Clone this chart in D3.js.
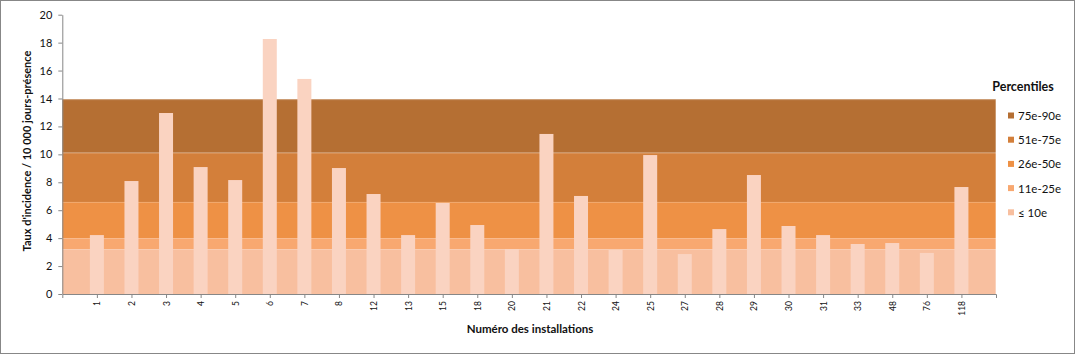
<!DOCTYPE html>
<html>
<head>
<meta charset="utf-8">
<script src="https://cdn.jsdelivr.net/npm/d3@7"></script>
<style>
  body { margin: 0; background: #fff; }
  svg { display: block; font-family: Lato, "Liberation Sans", sans-serif; }
</style>
</head>
<body>
<svg width="1075" height="354"></svg>
<script>
const installations = ["1", "2", "3", "4", "5", "6", "7", "8", "12", "13", "15", "18", "20", "21", "22", "24", "25", "27", "28", "29", "30", "31", "33", "48", "76", "118"];
const taux = [4.22, 8.09, 12.96, 9.09, 8.16, 18.26, 15.4, 9.02, 7.16, 4.22, 6.52, 4.94, 3.22, 11.46, 7.02, 3.15, 9.95, 2.86, 4.65, 8.52, 4.87, 4.22, 3.58, 3.65, 2.94, 7.66];

// percentile bands (upper limit of each band), lowest first
const percentiles = ["≤ 10e", "11e-25e", "26e-50e", "51e-75e", "75e-90e"];
const limites = [3.22, 4.01, 6.59, 10.12, 13.95];
const couleurs = ["#f8bf9f", "#f8a870", "#ee9145", "#d37f3a", "#b56f33"];
const yTicks = [0, 2, 4, 6, 8, 10, 12, 14, 16, 18, 20];

const svg = d3.select("svg"),
    width = 1075,
    height = 354,
    m = { left: 62.3, right: 996, top: 14.7, bottom: 294 };

svg.append("rect")
    .attr("x", 0.5).attr("y", 0.5)
    .attr("width", width - 1).attr("height", height - 1)
    .attr("fill", "#fff").attr("stroke", "#878787");

const x = d3.scalePoint().domain(installations).range([m.left, m.right]).padding(1);
const y = d3.scaleLinear().domain([0, 20]).range([m.bottom, m.top]);

// bands
const bands = limites.map((v, i) => ({ lo: i ? limites[i - 1] : 0, hi: v, color: couleurs[i] }));
svg.append("g").selectAll("rect")
    .data(bands)
    .enter().append("rect")
    .attr("x", m.left)
    .attr("width", m.right - m.left)
    .attr("y", d => y(d.hi))
    .attr("height", d => y(d.lo) - y(d.hi))
    .attr("fill", d => d.color);

svg.append("g").selectAll("line")
    .data(bands)
    .enter().append("line")
    .attr("x1", m.left).attr("x2", m.right)
    .attr("y1", d => y(d.hi) + 0.5).attr("y2", d => y(d.hi) + 0.5)
    .attr("stroke", "#fff").attr("stroke-opacity", 0.22);

svg.append("line")
    .attr("x1", m.right - 0.5).attr("x2", m.right - 0.5)
    .attr("y1", y(limites[4])).attr("y2", m.bottom)
    .attr("stroke", "#fff").attr("stroke-opacity", 0.3);

// bars
svg.append("g").selectAll("rect")
    .data(taux)
    .enter().append("rect")
    .attr("x", (d, i) => x(installations[i]) - 7)
    .attr("width", 14)
    .attr("y", d => y(d))
    .attr("height", d => m.bottom - y(d))
    .attr("fill", "#fad3c1");

// axes
const yAxis = svg.append("g")
    .attr("transform", `translate(${m.left},0)`)
    .call(d3.axisLeft(y).tickValues(yTicks).tickSize(4).tickSizeOuter(0).tickPadding(6));
yAxis.selectAll("text").attr("font-size", 11).attr("fill", "#111").attr("font-family", "Lato, sans-serif");

const xAxis = svg.append("g")
    .attr("transform", `translate(0,${m.bottom})`)
    .call(d3.axisBottom(x).tickSize(4).tickSizeOuter(4));
xAxis.selectAll("text")
    .attr("transform", "rotate(-90)")
    .attr("text-anchor", "end")
    .attr("x", -7).attr("y", 0).attr("dy", "0.35em")
    .attr("font-size", 8.5).attr("fill", "#111").attr("font-family", "Lato, sans-serif");

svg.selectAll(".domain, .tick line").attr("stroke", "#878787");

// titles
svg.append("text")
    .attr("transform", "translate(31,151) rotate(-90)")
    .attr("text-anchor", "middle")
    .attr("font-size", 11).attr("font-weight", "bold").attr("fill", "#111")
    .text("Taux d'incidence  / 10 000 jours-présence");

svg.append("text")
    .attr("x", 530).attr("y", 333)
    .attr("text-anchor", "middle")
    .attr("font-size", 11.5).attr("font-weight", "bold").attr("fill", "#111")
    .text("Numéro des installations");

// legend
const legend = svg.append("g");
legend.append("text")
    .attr("x", 1023).attr("y", 91)
    .attr("text-anchor", "middle")
    .attr("font-size", 12.5).attr("font-weight", "bold").attr("fill", "#111")
    .text("Percentiles");

const items = legend.selectAll(".item")
    .data(percentiles.map((p, i) => ({ p, c: couleurs[i] })).reverse())
    .enter().append("g")
    .attr("class", "item")
    .attr("transform", (d, i) => `translate(1008,${116 + i * 24.2})`);
items.append("rect")
    .attr("x", 0).attr("y", -3.5).attr("width", 6).attr("height", 6)
    .attr("fill", d => d.c);
items.append("text")
    .attr("x", 10).attr("y", 0).attr("dy", "0.35em")
    .attr("font-size", 11.5).attr("fill", "#111")
    .text(d => d.p);
</script>
</body>
</html>
